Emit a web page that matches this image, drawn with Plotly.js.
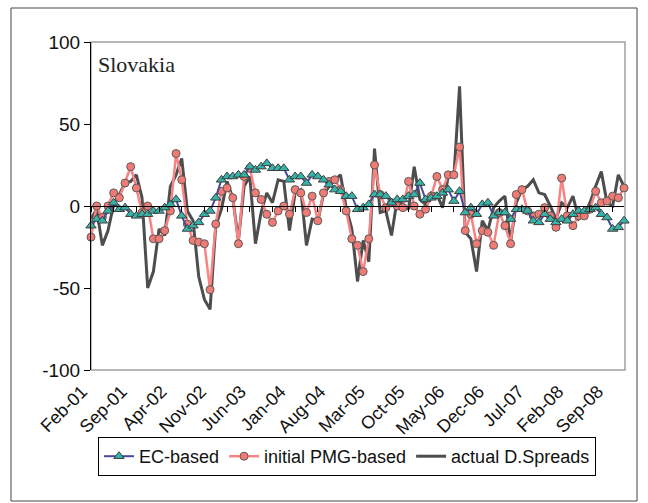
<!DOCTYPE html>
<html>
<head>
<meta charset="utf-8">
<script src="https://cdn.plot.ly/plotly-3.0.1.min.js"></script>
<style>html,body{margin:0;padding:0;background:#fff;}#chart{width:648px;height:503px;}</style>
</head>
<body>
<div id="chart"></div>
<script>
// ---- data ----
const startYear = 2001, startMonth = 1; // Feb-01 (0-based month)
const nPoints = 95;                      // Feb-01 .. Dec-08
const monthNames = ['Jan','Feb','Mar','Apr','May','Jun','Jul','Aug','Sep','Oct','Nov','Dec'];
const tickLabels = ['Feb-01','Sep-01','Apr-02','Nov-02','Jun-03','Jan-04','Aug-04','Mar-05','Oct-05','May-06','Dec-06','Jul-07','Feb-08','Sep-08'];

const ecBased = [-12,-8,-9,-3,2,-2,-1,-5,-6,-5,-5,-3,-3,-1,1,4,-6,-14,-12,-10,-5,-3,5,16,18,18,19,19,24,22,
  24,26,23,23,23,16,18,18,14,19,18,16,13,10,9,6,6,-2,-1,1,7,7,6,2,4,4,6,7,14,4,
  5,6,8,10,3,9,-4,-1,-5,1,2,-6,-4,-4,-8,-2,-2,-3,-9,-10,-5,-8,-10,-8,-9,-5,-3,-3,-2,-1,
  -5,-7,-14,-13,-9];
const pmgBased = [-19,0,-7,0,8,5,14,24,11,-4,0,-20,-20,-15,-3,32,16,-11,-21,-22,-23,-51,-11,9,11,5,-23,18,23,8,
  4,-5,-10,-3,0,-5,10,8,-4,6,-9,8,15,16,10,-3,-20,-24,-40,-20,25,7,-1,2,0,-1,15,0,-5,-2,
  6,18,10,19,19,36,-15,-5,-23,-15,-16,-24,-4,-12,-23,7,10,-3,-6,-5,-1,-6,-13,17,-6,-12,-6,-6,-2,9,
  2,3,6,5,11];
const actualSpreads = [-8,-2,-24,-15,1,7,14,15,19,5,-50,-40,-14,-18,12,19,29,-3,-9,-43,-57,-63,-12,-2,15,5,-21,12,18,-23,
  -4,8,2,16,15,-15,8,10,-24,-8,-9,7,12,16,19,-1,-14,-46,-21,-34,35,-4,-3,-18,4,1,-2,24,4,1,
  8,7,-1,18,18,73,-16,-20,-40,-9,-15,-1,3,6,-22,2,10,12,16,8,7,0,-8,2,-1,6,-8,-5,2,12,
  21,2,0,19,12];

// category labels for each month
const months = [];
for (let i = 0; i < nPoints; i++) {
  const m = (startMonth + i) % 12;
  const y = startYear + Math.floor((startMonth + i) / 12);
  months.push(monthNames[m] + '-' + String(y % 100).padStart(2, '0'));
}
const zeroTicks = months.filter((_, i) => i % 4 === 0);

// ---- layout geometry ----
const W = 648, H = 503;
const mL = 91, mR = 24, mT = 42, mB = 133;
const pw = W - mL - mR, ph = H - mT - mB;
const px = v => (v - mL) / pw;
const py = v => (H - mB - v) / ph;

const font = 'Liberation Sans, Arial, sans-serif';

const traces = [
  {
    x: months, y: actualSpreads, type: 'scatter', mode: 'lines', name: 'actual D.Spreads',
    line: {color: '#4d4d4d', width: 3}, legendrank: 3, cliponaxis: false
  },
  {
    x: months, y: pmgBased, type: 'scatter', mode: 'lines+markers', name: 'initial PMG-based',
    line: {color: '#f98383', width: 2.5},
    marker: {symbol: 'circle', size: 8, color: '#f27a74', line: {color: '#5a5a5a', width: 1}},
    legendrank: 2, cliponaxis: false
  },
  {
    x: months, y: ecBased, type: 'scatter', mode: 'lines+markers', name: 'EC-based',
    line: {color: '#454a9a', width: 2},
    marker: {symbol: 'triangle-up', size: 9, color: '#35b3a8', line: {color: '#3f3f3f', width: 1}},
    legendrank: 1, cliponaxis: false
  }
];

const layout = {
  width: W, height: H,
  margin: {l: mL, r: mR, t: mT, b: mB, pad: 0},
  paper_bgcolor: '#ffffff', plot_bgcolor: '#ffffff',
  showlegend: true,
  font: {family: font, size: 18, color: '#111'},
  xaxis: {
    type: 'category', categoryorder: 'array', categoryarray: months,
    range: [0, nPoints - 1], showgrid: false, zeroline: false, showline: false,
    tickmode: 'array', tickvals: tickLabels, ticktext: tickLabels,
    tickangle: -45, ticks: 'outside', ticklen: 3, tickcolor: 'rgba(0,0,0,0)',
    ticklabelshift: -9,
    tickfont: {family: font, size: 18, color: '#111'},
    fixedrange: true
  },
  xaxis2: {
    type: 'category', categoryorder: 'array', categoryarray: months,
    range: [0, nPoints - 1], overlaying: 'x', anchor: 'free', position: 0.5, side: 'bottom',
    showgrid: false, zeroline: false, showline: true, linecolor: '#000', linewidth: 1,
    tickmode: 'array', tickvals: zeroTicks, ticks: 'outside', ticklen: 5, tickcolor: '#000',
    showticklabels: false, fixedrange: true
  },
  yaxis: {
    range: [-100, 100], tickmode: 'array', tickvals: [-100, -50, 0, 50, 100],
    ticktext: ['-100', '-50', '0', '50', '100'],
    showgrid: false, zeroline: false, showline: true, linecolor: '#000', linewidth: 1,
    ticks: 'outside', ticklen: 6, tickcolor: '#000',
    tickfont: {family: font, size: 19, color: '#111'}, fixedrange: true
  },
  legend: {
    orientation: 'h', x: px(98), xanchor: 'left', y: py(437), yanchor: 'top',
    bordercolor: '#000', borderwidth: 1, bgcolor: '#fff',
    font: {family: font, size: 18, color: '#111'}, itemwidth: 30, tracegroupgap: 0
  },
  shapes: [
    {type: 'rect', xref: 'paper', yref: 'paper', x0: px(11), x1: px(637), y0: py(501), y1: py(8),
     line: {color: '#444', width: 1}, layer: 'below'},
    {type: 'rect', xref: 'paper', yref: 'paper', x0: 0, x1: px(625), y0: 0, y1: 1,
     line: {color: '#a0a0a0', width: 1.5}, layer: 'below'}
  ],
  annotations: [
    {text: 'Slovakia', xref: 'paper', yref: 'paper', x: px(96), y: py(65), xanchor: 'left', yanchor: 'middle',
     showarrow: false, font: {family: 'Liberation Serif, Times New Roman, serif', size: 22, color: '#222'}}
  ]
};

// invisible companion so the zero-line axis (xaxis2) is drawn
traces.push({x: months, y: actualSpreads, xaxis: 'x2', type: 'scatter', mode: 'lines',
  line: {width: 0, color: 'rgba(0,0,0,0)'}, showlegend: false, hoverinfo: 'skip'});

Plotly.newPlot('chart', traces, layout, {displayModeBar: false, staticPlot: true});
</script>
</body>
</html>
